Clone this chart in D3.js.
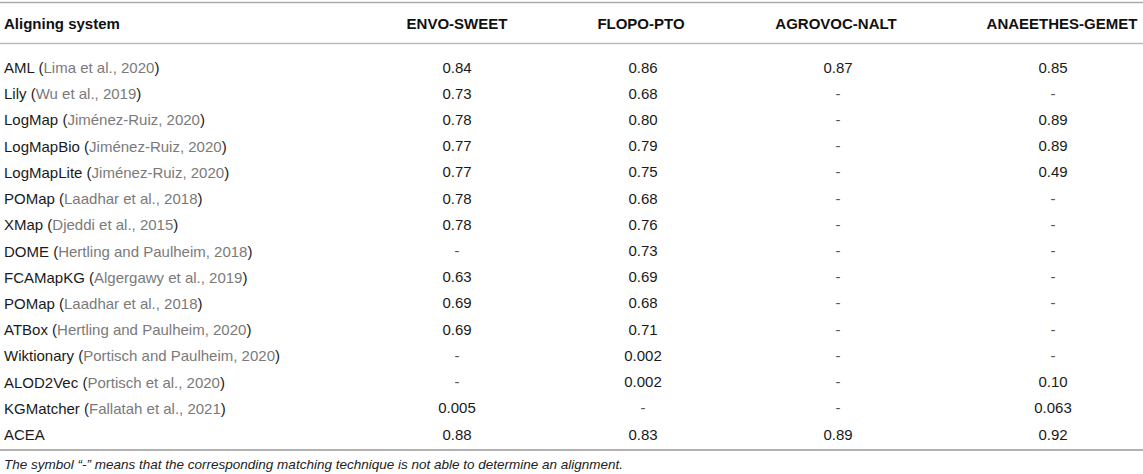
<!DOCTYPE html>
<html>
<head>
<meta charset="utf-8">
<script src="https://cdn.jsdelivr.net/npm/d3@7"></script>
<style>
  body { margin: 0; background: #fff; }
  svg { display: block; font-family: "Liberation Sans", Arial, Helvetica, sans-serif; }
</style>
</head>
<body>
<svg id="chart" width="1143" height="474"></svg>
<script>
// table content
const columns = ["ENVO-SWEET", "FLOPO-PTO", "AGROVOC-NALT", "ANAEETHES-GEMET"];
const systems = ["AML", "Lily", "LogMap", "LogMapBio", "LogMapLite", "POMap", "XMap", "DOME",
    "FCAMapKG", "POMap", "ATBox", "Wiktionary", "ALOD2Vec", "KGMatcher", "ACEA"];
const citations = ["Lima et al., 2020", "Wu et al., 2019", "Jiménez-Ruiz, 2020", "Jiménez-Ruiz, 2020",
    "Jiménez-Ruiz, 2020", "Laadhar et al., 2018", "Djeddi et al., 2015", "Hertling and Paulheim, 2018",
    "Algergawy et al., 2019", "Laadhar et al., 2018", "Hertling and Paulheim, 2020",
    "Portisch and Paulheim, 2020", "Portisch et al., 2020", "Fallatah et al., 2021", null];
// null = "-" (no alignment)
const envoSweet = [0.84, 0.73, 0.78, 0.77, 0.77, 0.78, 0.78, null, 0.63, 0.69, 0.69, null, null, 0.005, 0.88];
const flopoPto = [0.86, 0.68, 0.80, 0.79, 0.75, 0.68, 0.76, 0.73, 0.69, 0.68, 0.71, 0.002, 0.002, null, 0.83];
const agrovocNalt = [0.87, null, null, null, null, null, null, null, null, null, null, null, null, null, 0.89];
const anaeethesGemet = [0.85, null, 0.89, 0.89, 0.49, null, null, null, null, null, null, null, 0.10, 0.063, 0.92];
const headerFirst = "Aligning system";
const footnote = "The symbol \u201C-\u201D means that the corresponding matching technique is not able to determine an alignment.";

const seriesValues = [envoSweet, flopoPto, agrovocNalt, anaeethesGemet];

let fmtValue = (v) => {
    if (v === null) return "-";
    return v >= 0.1 ? d3.format(".2f")(v) : d3.format(".3f")(v);
};

const W = 1143;
const svg = d3.select("#chart");

let y = d3.scalePoint().domain(d3.range(systems.length)).range([67, 434]);
let x = d3.scaleOrdinal().domain(columns).range([457, 643, 838, 1053]);
let xHeader = d3.scaleOrdinal().domain(columns).range([457, 641, 836, 1062]);

// rules
let rules = [
    { y: 2.5, color: "#aaa" },
    { y: 43.5, color: "#bbb" },
    { y: 450, color: "#999" }
];
svg.selectAll("line.rule")
    .data(rules)
    .enter()
    .append("line")
        .attr("class", "rule")
        .attr("x1", 0).attr("x2", W)
        .attr("y1", d => d.y).attr("y2", d => d.y)
        .attr("stroke", d => d.color)
        .attr("stroke-width", 1.6);

// header
let gHead = svg.append("g").attr("class", "header")
    .attr("font-weight", "bold").attr("font-size", 15).attr("fill", "#111");
gHead.append("text")
    .attr("x", 4).attr("y", 23)
    .attr("dominant-baseline", "central")
    .text(headerFirst);
gHead.selectAll("text.col")
    .data(columns)
    .enter()
    .append("text")
        .attr("class", "col")
        .attr("x", d => xHeader(d))
        .attr("y", 23)
        .attr("text-anchor", "middle")
        .attr("dominant-baseline", "central")
        .text(d => d);

// body rows
let gRows = svg.append("g").attr("class", "rows").attr("font-size", 15);
let row = gRows.selectAll("g.row")
    .data(systems.map((s, i) => ({ i: i, name: s, cite: citations[i] })))
    .enter()
    .append("g")
        .attr("class", "row");

let label = row.append("text")
    .attr("x", 4)
    .attr("y", d => y(d.i))
    .attr("dominant-baseline", "central")
    .attr("fill", "#1a1a1a");
label.append("tspan").text(d => d.name);
label.filter(d => d.cite !== null).each(function (d) {
    let t = d3.select(this);
    t.append("tspan").text(" (");
    t.append("tspan").attr("fill", "#7a7a7a").text(d.cite);
    t.append("tspan").text(")");
});

columns.forEach((col, c) => {
    row.append("text")
        .attr("x", x(col))
        .attr("y", d => y(d.i))
        .attr("text-anchor", "middle")
        .attr("dominant-baseline", "central")
        .attr("fill", d => seriesValues[c][d.i] === null ? "#555" : "#1a1a1a")
        .text(d => fmtValue(seriesValues[c][d.i]));
});

// footnote
svg.append("text")
    .attr("x", 4).attr("y", 464)
    .attr("dominant-baseline", "central")
    .attr("font-size", 13.5)
    .attr("font-style", "italic")
    .attr("fill", "#222")
    .text(footnote);
</script>
</body>
</html>
